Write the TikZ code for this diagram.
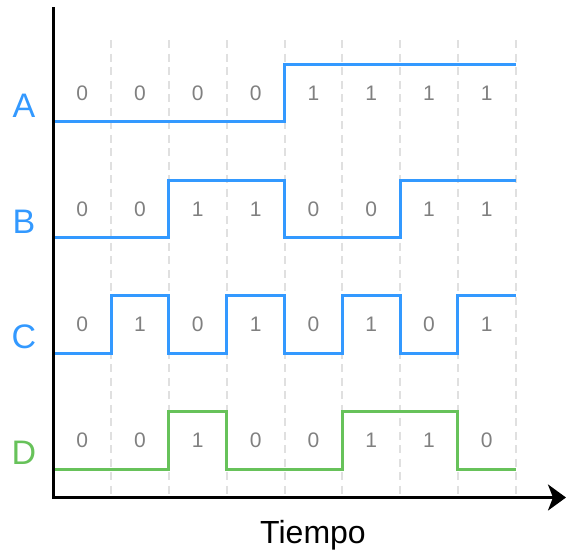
\documentclass[tikz,border=0pt]{standalone}
\usepackage{fontspec}
\setmainfont{Liberation Sans}
\usetikzlibrary{arrows.meta}
\definecolor{sigblue}{HTML}{3399FF}
\definecolor{siggreen}{HTML}{67C25A}
\definecolor{bitgray}{HTML}{808080}
\definecolor{gridgray}{HTML}{E0E0E0}
\begin{document}
\begin{tikzpicture}[x=1pt,y=-1pt,
  wave/.style={line width=3pt, line join=miter, line cap=butt},
  gridline/.style={gridgray, line width=2pt, dash pattern=on 8pt off 5.5pt},
  axis/.style={line width=3pt, black, line join=miter},
  bit/.style={text=bitgray, font=\fontsize{21}{25}\selectfont},
  siglabel/.style={font=\fontsize{34}{40}\selectfont},
  axislabel/.style={font=\fontsize{32}{38}\selectfont}]
\useasboundingbox (0,0) rectangle (566,554);

% dashed separators between bit slots
\foreach \i in {1,...,8}
  \draw[gridline] (53.3+57.8*\i, 40) -- (53.3+57.8*\i, 497);

% signals: name / bits / low level / colour
\foreach \name/\bits/\low/\col in {
    A/{0,0,0,0,1,1,1,1}/121.5/sigblue,
    B/{0,0,1,1,0,0,1,1}/237.5/sigblue,
    C/{0,1,0,1,0,1,0,1}/353.2/sigblue,
    D/{0,0,1,0,0,1,1,0}/469/siggreen} {
  \node[siglabel, text=\col] (lbl-\name) at (24, \low-16) {\name};
  \draw[wave, \col] (53.3, \low)
    \foreach \b [count=\i from 0] in \bits {
      -- (53.3+57.8*\i, \low-57.5*\b) -- (53.3+57.8*\i+57.8, \low-57.5*\b)
    };
  \foreach \b [count=\i from 0] in \bits
    \node[bit] (bit-\name-\i) at (53.3+57.8*\i+28.9, \low-28.5) {\b};
}

% axes
\coordinate (ytop) at (53.3, 7);
\coordinate (origin) at (53.3, 497.5);
\coordinate (xend) at (566, 497.5);
\draw[axis, -{Stealth[length=18pt, width=26pt, inset=5pt]}] (ytop) -- (origin) -- (xend);

\node[axislabel] (xlabel) at (313, 535) {Tiempo};
\end{tikzpicture}
\end{document}
